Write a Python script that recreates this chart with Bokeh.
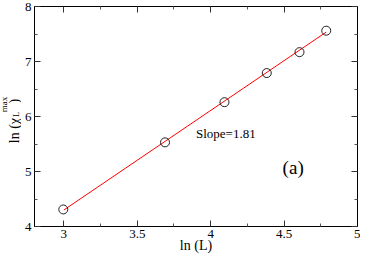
import math
from bokeh.plotting import figure
from bokeh.models import Label, LinearAxis, FixedTicker, Range1d
from bokeh.layouts import row
from bokeh.embed import file_html
from bokeh.resources import INLINE

# data: ln(L) vs ln(chi_L^max)
ln_L = [2.996, 3.689, 4.094, 4.382, 4.605, 4.787]
ln_chi = [4.31, 5.53, 6.26, 6.79, 7.17, 7.56]
fit_x = [3.0, 4.787]
fit_y = [4.30, 7.535]

x_ticks = [3, 3.5, 4, 4.5, 5]
x_tick_labels = ["3", "3.5", "4", "4.5", "5"]
x_minor = [3.25, 3.75, 4.25, 4.75]
y_ticks = [4, 5, 6, 7, 8]
y_tick_labels = ["4", "5", "6", "7", "8"]
y_minor = [4.5, 5.5, 6.5, 7.5]

FONT = "Liberation Serif"
H = 255
LW = 21          # width of the strip that carries the y-axis title
MW = 360 - LW    # width of the main plot

p = figure(width=MW, height=H, x_range=(2.8, 5.0), y_range=(4.0, 8.0),
           output_backend="svg", toolbar_location=None,
           min_border_left=10, min_border_right=3,
           min_border_top=6, min_border_bottom=0)
p.xgrid.visible = False
p.ygrid.visible = False
p.outline_line_color = "black"
p.background_fill_color = "white"
p.border_fill_color = "white"

def style_axis(ax, ticks, minor, labels, show_labels):
    ax.ticker = FixedTicker(ticks=ticks, minor_ticks=minor)
    if show_labels:
        ax.major_label_overrides = {t: l for t, l in zip(ticks, labels)}
        ax.major_label_standoff = 3
    else:
        ax.major_label_overrides = {t: "" for t in ticks}
        ax.major_label_standoff = 0
    ax.major_tick_in = 6
    ax.major_tick_out = 0
    ax.minor_tick_in = 3
    ax.minor_tick_out = 0
    ax.major_tick_line_color = "#333333"
    ax.minor_tick_line_color = "#555555"
    ax.axis_line_color = "black"
    ax.major_label_text_font = FONT
    ax.major_label_text_font_size = "13px"
    ax.major_label_text_color = "black"

style_axis(p.xaxis[0], x_ticks, x_minor, x_tick_labels, True)
style_axis(p.yaxis[0], y_ticks, y_minor, y_tick_labels, True)
p.xaxis.axis_label = "ln (L)"
p.xaxis.axis_label_text_font = FONT
p.xaxis.axis_label_text_font_size = "14px"
p.xaxis.axis_label_text_font_style = "normal"
p.xaxis.axis_label_text_color = "black"
p.xaxis.axis_label_standoff = -3

top = LinearAxis()
style_axis(top, x_ticks, x_minor, x_tick_labels, False)
p.add_layout(top, "above")
right = LinearAxis()
style_axis(right, y_ticks, y_minor, y_tick_labels, False)
p.add_layout(right, "right")

p.line(fit_x, fit_y, line_color="red", line_width=1)
p.scatter(ln_L, ln_chi, marker="circle", size=9, fill_color=None,
          line_color="#222222", line_width=1)

p.add_layout(Label(x=3.9, y=5.56, text="Slope=1.81", text_font=FONT,
                   text_font_size="13px", text_color="black"))
p.add_layout(Label(x=4.49, y=4.89, text="(a)", text_font=FONT,
                   text_font_size="19px", text_color="black"))

# narrow strip for the rotated y-axis title  ln (chi_L^max)
# strip coordinates: x in px from its left, y in px from its bottom
yl = figure(width=LW, height=H, x_range=Range1d(0, LW), y_range=Range1d(0, H),
            output_backend="svg", toolbar_location=None,
            x_axis_type=None, y_axis_type=None,
            min_border_left=0, min_border_right=0,
            min_border_top=0, min_border_bottom=0)
yl.outline_line_color = None
yl.background_fill_color = "white"
yl.border_fill_color = "white"
rot = math.pi / 2
pieces = [
    ("ln (\u03c7", 14.0, 96.5, "14px"),
    ("L", 15.5, 127.0, "9px"),
    ("max", 3.6, 132.5, "9px"),
    (")", 14.0, 142.5, "14px"),
]
for txt, lx, ly, fs in pieces:
    yl.add_layout(Label(x=lx, y=ly, text=txt, angle=rot, text_font=FONT,
                        text_font_size=fs, text_color="black",
                        text_align="left", text_baseline="alphabetic"))

layout = row(yl, p)
open("out.html", "w").write(file_html(layout, INLINE))
